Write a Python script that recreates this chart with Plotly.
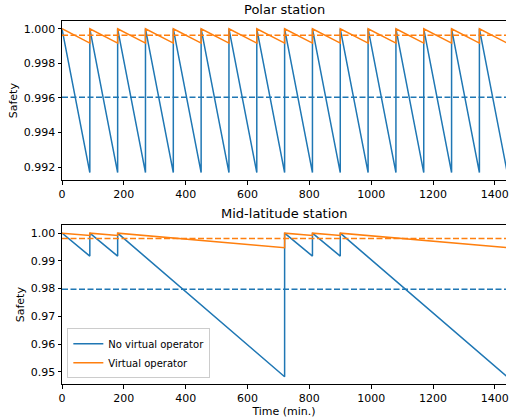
import plotly.graph_objects as go

BLUE = "#1f77b4"
ORANGE = "#ff7f0e"

# ---------------- Polar station ----------------
polar_t = [0, 90, 90, 180, 180, 270, 270, 360, 360, 450, 450, 540, 540, 630, 630,
           720, 720, 810, 810, 900, 900, 990, 990, 1080, 1080, 1170, 1170,
           1260, 1260, 1350, 1350, 1440]
polar_no_vo = [1.0, 0.99168, 1.0, 0.99168, 1.0, 0.99168, 1.0, 0.99168, 1.0, 0.99168,
               1.0, 0.99168, 1.0, 0.99168, 1.0, 0.99168, 1.0, 0.99168, 1.0, 0.99168,
               1.0, 0.99168, 1.0, 0.99168, 1.0, 0.99168, 1.0, 0.99168, 1.0, 0.99168,
               1.0, 0.99168]
polar_vo = [1.0, 0.99917, 1.0, 0.99917, 1.0, 0.99917, 1.0, 0.99917, 1.0, 0.99917,
            1.0, 0.99917, 1.0, 0.99917, 1.0, 0.99917, 1.0, 0.99917, 1.0, 0.99917,
            1.0, 0.99917, 1.0, 0.99917, 1.0, 0.99917, 1.0, 0.99917, 1.0, 0.99917,
            1.0, 0.99917]
polar_mean_no_vo = 0.99604
polar_mean_vo = 0.99962

# ---------------- Mid-latitude station ----------------
mid_t = [0, 90, 90, 180, 180, 720, 720, 810, 810, 900, 900, 1440]
mid_no_vo = [1.0, 0.99173, 1.0, 0.99173, 1.0, 0.9482, 1.0, 0.99173, 1.0, 0.99173, 1.0, 0.9482]
mid_vo = [1.0, 0.99917, 1.0, 0.99917, 1.0, 0.99475, 1.0, 0.99917, 1.0, 0.99917, 1.0, 0.99475]
mid_mean_no_vo = 0.97975
mid_mean_vo = 0.9981

x_ticks = [0, 200, 400, 600, 800, 1000, 1200, 1400]
polar_yticks = [0.992, 0.994, 0.996, 0.998, 1.000]
mid_yticks = [0.95, 0.96, 0.97, 0.98, 0.99, 1.00]

FONT = "DejaVu Sans"
fig = go.Figure()

def add_panel(t, no_vo, vo, m_no, m_vo, xa, ya, show):
    fig.add_trace(go.Scatter(x=t, y=no_vo, mode="lines", line=dict(color=BLUE, width=1.5),
                             name="No virtual operator", showlegend=show, xaxis=xa, yaxis=ya))
    fig.add_trace(go.Scatter(x=t, y=vo, mode="lines", line=dict(color=ORANGE, width=1.5),
                             name="Virtual operator", showlegend=show, xaxis=xa, yaxis=ya))
    fig.add_trace(go.Scatter(x=[t[0], t[-1]], y=[m_no, m_no], mode="lines",
                             line=dict(color=BLUE, width=1.5, dash="6px,2.5px"),
                             showlegend=False, xaxis=xa, yaxis=ya))
    fig.add_trace(go.Scatter(x=[t[0], t[-1]], y=[m_vo, m_vo], mode="lines",
                             line=dict(color=ORANGE, width=1.5, dash="6px,2.5px"),
                             showlegend=False, xaxis=xa, yaxis=ya))

add_panel(polar_t, polar_no_vo, polar_vo, polar_mean_no_vo, polar_mean_vo, "x", "y", False)
add_panel(mid_t, mid_no_vo, mid_vo, mid_mean_no_vo, mid_mean_vo, "x2", "y2", True)

axis_common = dict(showline=True, linecolor="black", linewidth=1, ticks="outside",
                   ticklen=3.5, tickcolor="black", showgrid=False, zeroline=False,
                   ticklabeloverflow="allow",
                   tickfont=dict(family=FONT, size=11, color="black"))

fig.update_layout(
    width=509, height=418,
    margin=dict(l=62, r=0, t=20.5, b=34),
    paper_bgcolor="white", plot_bgcolor="white",
    font=dict(family=FONT, size=11, color="black"),
    xaxis=dict(domain=[0, 1], anchor="y", range=[0, 1436], tickvals=x_ticks,
               mirror=True, **axis_common),
    yaxis=dict(domain=[0.561, 1], anchor="x", range=[0.99123, 1.00045],
               tickvals=polar_yticks, tickformat=".3f",
               title=dict(text="Safety", font=dict(family=FONT, size=11), standoff=3),
               **axis_common),
    xaxis2=dict(domain=[0, 1], anchor="y2", range=[0, 1436], tickvals=x_ticks,
                mirror=True,
                title=dict(text="Time (min.)", font=dict(family=FONT, size=11), standoff=3),
                **axis_common),
    yaxis2=dict(domain=[0, 0.437], anchor="x2", range=[0.9456, 1.0028],
                tickvals=mid_yticks, tickformat=".2f",
                title=dict(text="Safety", font=dict(family=FONT, size=11), standoff=3),
                **axis_common),
    legend=dict(x=0.012, y=0.016, xanchor="left", yanchor="bottom",
                bgcolor="rgba(255,255,255,0.85)", bordercolor="#cccccc", borderwidth=1,
                font=dict(family=FONT, size=10), tracegroupgap=0, itemwidth=30),
    annotations=[
        dict(text="Polar station", x=0.5, y=1, xref="paper", yref="paper",
             xanchor="center", yanchor="bottom", yshift=2, showarrow=False,
             font=dict(family=FONT, size=13)),
        dict(text="Mid-latitude station", x=0.5, y=0.437, xref="paper", yref="paper",
             xanchor="center", yanchor="bottom", yshift=2, showarrow=False,
             font=dict(family=FONT, size=13)),
    ],
)

fig.write_html("out.html")
